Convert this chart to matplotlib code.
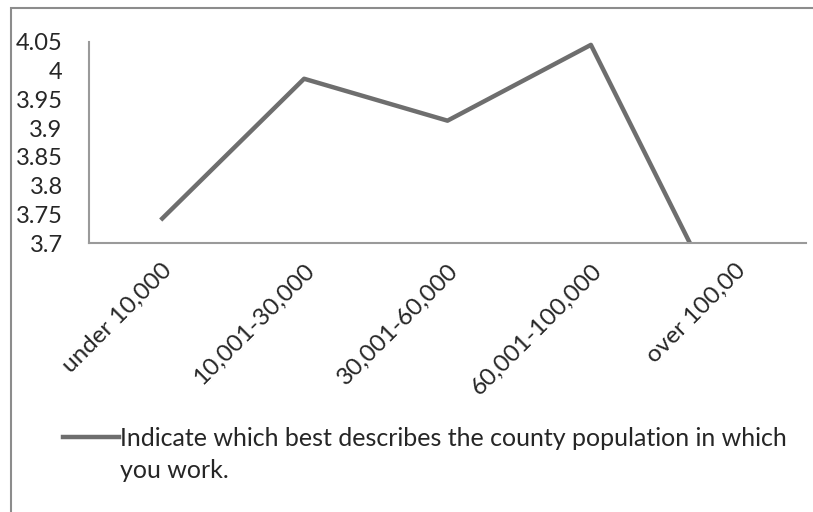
import matplotlib
matplotlib.use('Agg')
import matplotlib.pyplot as plt
from matplotlib.lines import Line2D
from matplotlib.patches import Rectangle

# chart data
categories = ['under 10,000', '10,001-30,000', '30,001-60,000',
              '60,001-100,000', 'over 100,00']
values = [3.740, 3.986, 3.913, 4.045, 3.545]
y_ticks = [3.7, 3.75, 3.8, 3.85, 3.9, 3.95, 4, 4.05]
y_tick_labels = ['3.7', '3.75', '3.8', '3.85', '3.9', '3.95', '4', '4.05']
series_label = 'Indicate which best describes the county population in which\nyou work.'

plt.rcParams['font.family'] = ['Lato', 'DejaVu Sans']
W, H = 813, 512
fig = plt.figure(figsize=(W / 100, H / 100), dpi=100)

# outer frame (only left and top edges are visible)
fig.add_artist(Rectangle((11 / W, -0.05), 1.2, 1 - 8 / H + 0.05,
                         transform=fig.transFigure, fill=False,
                         edgecolor='#8c8c8c', linewidth=1.5))

ax = fig.add_axes([89 / W, 1 - 243 / H, (806 - 89) / W, (243 - 42) / H])
x = range(len(categories))
ax.plot(x, values, color='#6e6e6e', linewidth=3.2, solid_capstyle='butt')

ax.set_xlim(-0.5, len(categories) - 0.5)
ax.set_ylim(3.7, 4.05)
ax.set_yticks(y_ticks)
ax.set_yticklabels(y_tick_labels)
ax.set_xticks(list(x))
ax.set_xticklabels(categories, rotation=45, ha='right', rotation_mode='anchor')
ax.tick_params(length=0, labelsize=17, colors='#262626')
ax.tick_params(axis='x', labelsize=17.5, pad=12)
ax.tick_params(axis='y', pad=19)

for side in ['top', 'right']:
    ax.spines[side].set_visible(False)
for side in ['left', 'bottom']:
    ax.spines[side].set_color('#9a9a9a')
    ax.spines[side].set_linewidth(1.5)

# legend drawn by hand so the sample sits on the first text line
fig.add_artist(Line2D([63 / W, 119 / W], [1 - 437 / H, 1 - 437 / H],
                      transform=fig.transFigure, color='#6e6e6e', linewidth=3.2))
fig.text(120 / W, 1 - 427 / H, series_label, fontsize=18, color='#262626',
         va='top', ha='left', linespacing=1.48, transform=fig.transFigure)

fig.savefig('out.png', dpi=100)
